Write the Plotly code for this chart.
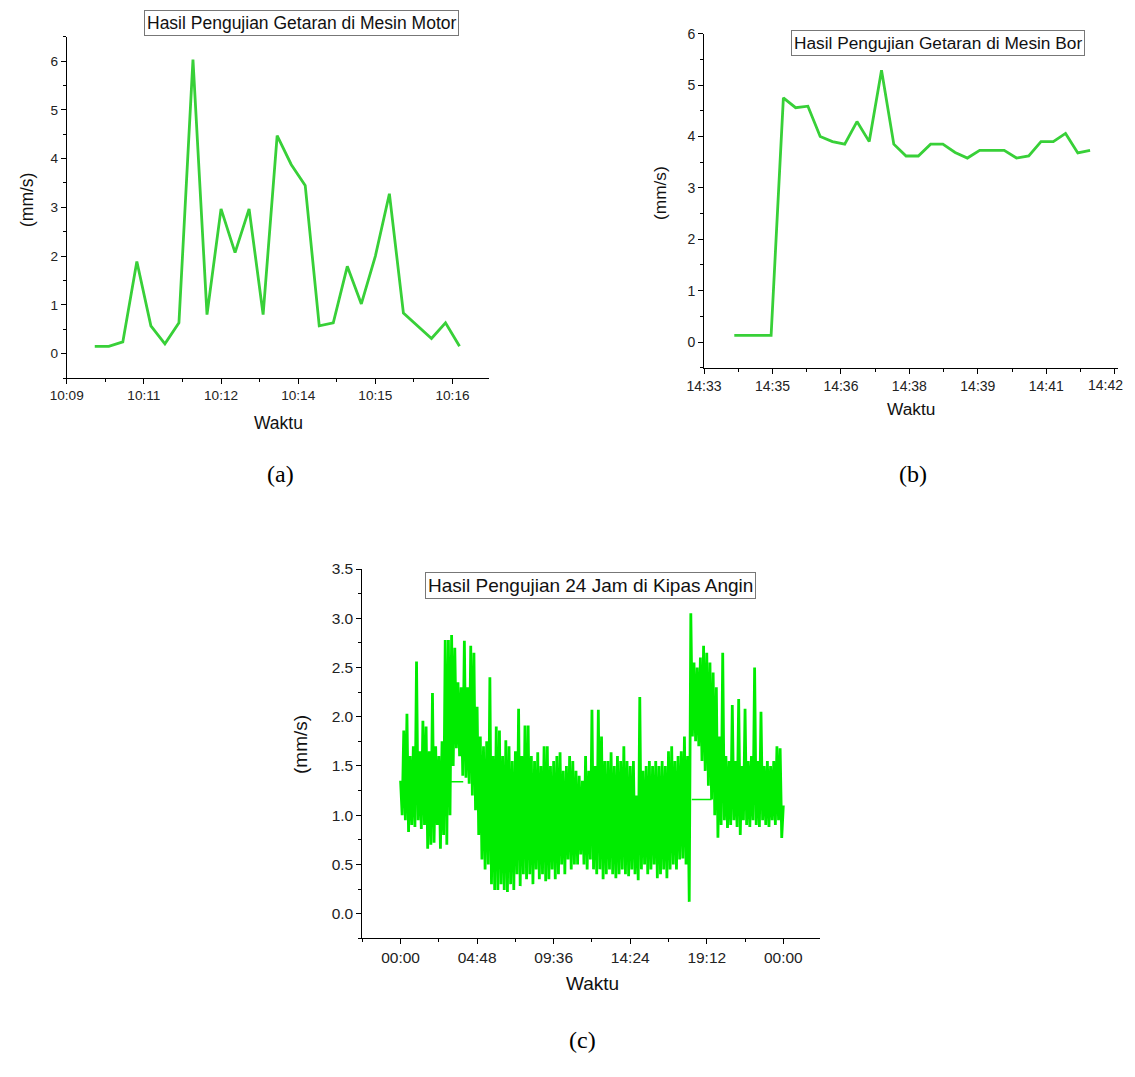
import plotly.graph_objects as go

# reference picture size and the page's default body margin (keep the page inside the window)
REF_W, REF_H = 1135, 1077
OFF = 8
W, H = REF_W - 2 * OFF, REF_H - 2 * OFF

# ---------------- data ----------------
# (a) motor: one value per sample
motor_values = [0.15, 0.15, 0.24, 1.89, 0.57, 0.20, 0.63, 6.03, 0.80, 2.97,
                2.07, 2.97, 0.80, 4.47, 3.88, 3.45, 0.57, 0.63, 1.79, 1.02,
                2.00, 3.28, 0.83, 0.57, 0.31, 0.63, 0.15]
motor_tick_labels = ["10:09", "10:11", "10:12", "10:14", "10:15", "10:16"]
motor_tick_start = -2.0      # sample position of first labelled tick
motor_tick_step = 5.5        # samples per labelled tick

# (b) drill
bor_values = [0.13, 0.13, 0.13, 0.13, 4.75, 4.56, 4.59, 4.00, 3.90, 3.85,
              4.29, 3.90, 5.29, 3.85, 3.62, 3.62, 3.85, 3.85, 3.69, 3.58,
              3.73, 3.73, 3.73, 3.58, 3.62, 3.90, 3.90, 4.06, 3.68, 3.73]
bor_tick_labels = ["14:33", "14:35", "14:36", "14:38", "14:39", "14:41", "14:42"]
bor_tick_start = -2.47
bor_tick_step = 5.58

# (c) fan, 24 h, one reading every 0.1 h
fan_step_h = 0.1
fan_values = [
    1.35, 1.00, 1.86, 0.95, 2.03, 0.83, 1.60, 0.90, 1.70, 0.88,
    2.56, 0.95, 1.65, 0.86, 1.96, 0.90, 1.90, 0.66, 1.65, 0.70,
    2.24, 0.72, 1.70, 0.90, 1.60, 0.66, 1.75, 0.80, 2.78, 0.70,
    2.78, 1.00, 2.83, 1.50, 2.70, 1.68, 2.35, 1.60, 2.30, 1.40,
    2.77, 1.38, 2.30, 1.32, 2.72, 1.20, 2.65, 1.05, 2.10, 0.80,
    1.80, 0.55, 1.70, 0.45, 1.75, 0.50, 2.40, 0.30, 1.60, 0.24,
    1.90, 0.24, 1.86, 0.30, 1.60, 0.24, 1.76, 0.22, 1.70, 0.30,
    1.55, 0.24, 1.65, 0.40, 2.08, 0.28, 1.60, 0.40, 1.91, 0.35,
    1.91, 0.40, 1.60, 0.30, 1.55, 0.45, 1.64, 0.35, 1.50, 0.40,
    1.70, 0.33, 1.70, 0.35, 1.50, 0.45, 1.55, 0.35, 1.60, 0.40,
    1.64, 0.50, 1.45, 0.40, 1.50, 0.55, 1.60, 0.45, 1.55, 0.50,
    1.45, 0.50, 1.40, 0.60, 1.35, 0.50, 1.60, 0.45, 1.45, 0.55,
    2.07, 0.45, 1.50, 0.40, 2.07, 0.45, 1.80, 0.35, 1.55, 0.40,
    1.55, 0.45, 1.64, 0.40, 1.50, 0.36, 1.60, 0.40, 1.55, 0.45,
    1.70, 0.40, 1.55, 0.38, 1.50, 0.45, 1.55, 0.40, 1.20, 0.34,
    2.20, 0.45, 1.45, 0.50, 1.50, 0.40, 1.55, 0.45, 1.50, 0.50,
    1.55, 0.36, 1.50, 0.40, 1.55, 0.45, 1.50, 0.36, 1.65, 0.45,
    1.70, 0.50, 1.55, 0.45, 1.60, 0.55, 1.65, 0.56, 1.80, 0.50,
    1.60, 0.12, 3.05, 1.80, 2.55, 1.75, 2.50, 1.70, 2.60, 1.55,
    2.72, 1.45, 2.65, 1.30, 2.55, 1.16, 2.45, 1.00, 2.30, 0.77,
    1.80, 0.90, 2.65, 0.95, 1.60, 0.87, 1.55, 0.90, 2.12, 0.95,
    1.55, 0.88, 2.18, 0.80, 1.50, 0.95, 2.08, 0.90, 1.55, 0.88,
    1.60, 0.95, 2.50, 0.90, 1.55, 0.88, 2.05, 0.95, 1.50, 0.90,
    1.55, 0.88, 1.50, 0.95, 1.55, 0.90, 1.70, 0.95, 1.68, 0.77,
    1.10,
]
# flat connecting segments (start h, end h, value)
fan_flat_segments = [(3.10, 3.93, 1.34), (18.26, 19.50, 1.16)]
fan_tick_hours = [0, 4.8, 9.6, 14.4, 19.2, 24]
fan_tick_labels = ["00:00", "04:48", "09:36", "14:24", "19:12", "00:00"]

titles = ["Hasil Pengujian Getaran di Mesin Motor",
          "Hasil Pengujian Getaran di Mesin Bor",
          "Hasil Pengujian 24 Jam di Kipas Angin"]
y_title = "(mm/s)"
x_title = "Waktu"
panel_labels = ["(a)", "(b)", "(c)"]

# ---------------- figure ----------------
SANS = "Liberation Sans, Arial, sans-serif"
SERIF = "Liberation Serif, Times New Roman, serif"
GREEN_AB = "#38d038"
GREEN_C = "#00ec00"

fig = go.Figure()

fig.add_trace(go.Scatter(x=list(range(len(motor_values))), y=motor_values,
                         mode="lines", line=dict(color=GREEN_AB, width=2.8),
                         xaxis="x", yaxis="y", hoverinfo="skip"))
fig.add_trace(go.Scatter(x=list(range(len(bor_values))), y=bor_values,
                         mode="lines", line=dict(color=GREEN_AB, width=2.8),
                         xaxis="x2", yaxis="y2", hoverinfo="skip"))
fan_hours = [round(i * fan_step_h, 3) for i in range(len(fan_values))]
fig.add_trace(go.Scatter(x=fan_hours, y=fan_values, mode="lines",
                         line=dict(color=GREEN_C, width=2.8, simplify=False),
                         xaxis="x3", yaxis="y3", hoverinfo="skip"))
for h0, h1, v in fan_flat_segments:
    fig.add_trace(go.Scatter(x=[h0, h1], y=[v, v], mode="lines",
                             line=dict(color=GREEN_C, width=1.6),
                             xaxis="x3", yaxis="y3", hoverinfo="skip"))


def px_x(p):
    return (p - OFF) / W


def px_y(p):
    return 1 - (p - OFF) / H


def axis_common(size):
    return dict(showline=True, linecolor="black", linewidth=1,
                ticks="outside", ticklen=5, tickcolor="black", tickwidth=1,
                showgrid=False, zeroline=False, automargin=False,
                tickfont=dict(family=SANS, size=size, color="#222"))


xa = axis_common(13.6)
xa.update(domain=[px_x(66.7), px_x(489)], range=[-2.0, 28.1], anchor="y",
          tickmode="array",
          tickvals=[motor_tick_start + k * motor_tick_step for k in range(len(motor_tick_labels))],
          ticktext=motor_tick_labels,
          minor=dict(ticks="outside", ticklen=3, tickcolor="black",
                     tick0=motor_tick_start, dtick=motor_tick_step / 2))
ya = axis_common(13.6)
ya.update(domain=[px_y(378), px_y(36.7)], range=[-0.5, 6.5], anchor="x",
          tick0=0, dtick=1,
          minor=dict(ticks="outside", ticklen=3, tickcolor="black", tick0=0, dtick=0.5))

# the last label of (b) sits at the page edge; it is drawn as an axis-anchored annotation
bor_tickvals = [bor_tick_start + k * bor_tick_step for k in range(len(bor_tick_labels))]
xb = axis_common(14)
xb.update(domain=[px_x(704), px_x(1118.3)], range=[-2.47, 31.3], anchor="y2",
          tickmode="array", tickvals=bor_tickvals,
          ticktext=bor_tick_labels[:-1] + [""],
          minor=dict(ticks="outside", ticklen=3, tickcolor="black",
                     tick0=bor_tick_start, dtick=bor_tick_step / 2))
yb = axis_common(14)
yb.update(domain=[px_y(367.7), px_y(33.7)], range=[-0.5, 6.0], anchor="x2",
          tick0=0, dtick=1,
          minor=dict(ticks="outside", ticklen=3, tickcolor="black", tick0=0, dtick=0.5))

xc = axis_common(15.5)
xc.update(domain=[px_x(362.3), px_x(820)], range=[-2.4, 26.3], anchor="y3",
          tickmode="array", tickvals=fan_tick_hours, ticktext=fan_tick_labels,
          minor=dict(ticks="outside", ticklen=3, tickcolor="black", tick0=0, dtick=2.4))
yc = axis_common(15.5)
yc.update(domain=[px_y(938.3), px_y(569)], range=[-0.25, 3.5], anchor="x3",
          tick0=0, dtick=0.5, tickformat=".1f",
          minor=dict(ticks="outside", ticklen=3, tickcolor="black", tick0=0, dtick=0.25))

annotations = []


def ann(text, x, y, size, family=SANS, angle=0, box=False, color="#111"):
    d = dict(text=text, x=px_x(x), y=px_y(y), xref="paper", yref="paper",
             xanchor="center", yanchor="middle", showarrow=False,
             textangle=angle, font=dict(family=family, size=size, color=color))
    if box:
        d.update(bordercolor="#777", borderwidth=1, borderpad=2, bgcolor="white")
    annotations.append(d)


ann(titles[0], 301.3, 22.8, 17.5, box=True)
ann(titles[1], 938.3, 43.3, 17.3, box=True)
ann(titles[2], 590.3, 585.8, 19, box=True)

ann(y_title, 27, 200, 17.5, angle=-90)
ann(x_title, 278, 423, 17.5)
ann(y_title, 660, 193, 17.3, angle=-90)
ann(x_title, 911, 409, 17.3)
ann(y_title, 300, 745, 19, angle=-90)
ann(x_title, 592, 983, 19)

ann(panel_labels[0], 280, 474, 24, family=SERIF, color="black")
ann(panel_labels[1], 913, 474, 24, family=SERIF, color="black")
ann(panel_labels[2], 582, 1040, 24, family=SERIF, color="black")

annotations.append(dict(text=bor_tick_labels[-1], x=bor_tickvals[-1], xref="x2",
                        y=px_y(385), yref="paper", xanchor="right", yanchor="middle",
                        xshift=10, showarrow=False,
                        font=dict(family=SANS, size=14, color="#222")))

fig.update_layout(width=W, height=H, margin=dict(l=0, r=0, t=0, b=0, autoexpand=False),
                  paper_bgcolor="white", plot_bgcolor="white", showlegend=False,
                  xaxis=xa, yaxis=ya, xaxis2=xb, yaxis2=yb, xaxis3=xc, yaxis3=yc,
                  annotations=annotations)

fig.write_html("out.html")
